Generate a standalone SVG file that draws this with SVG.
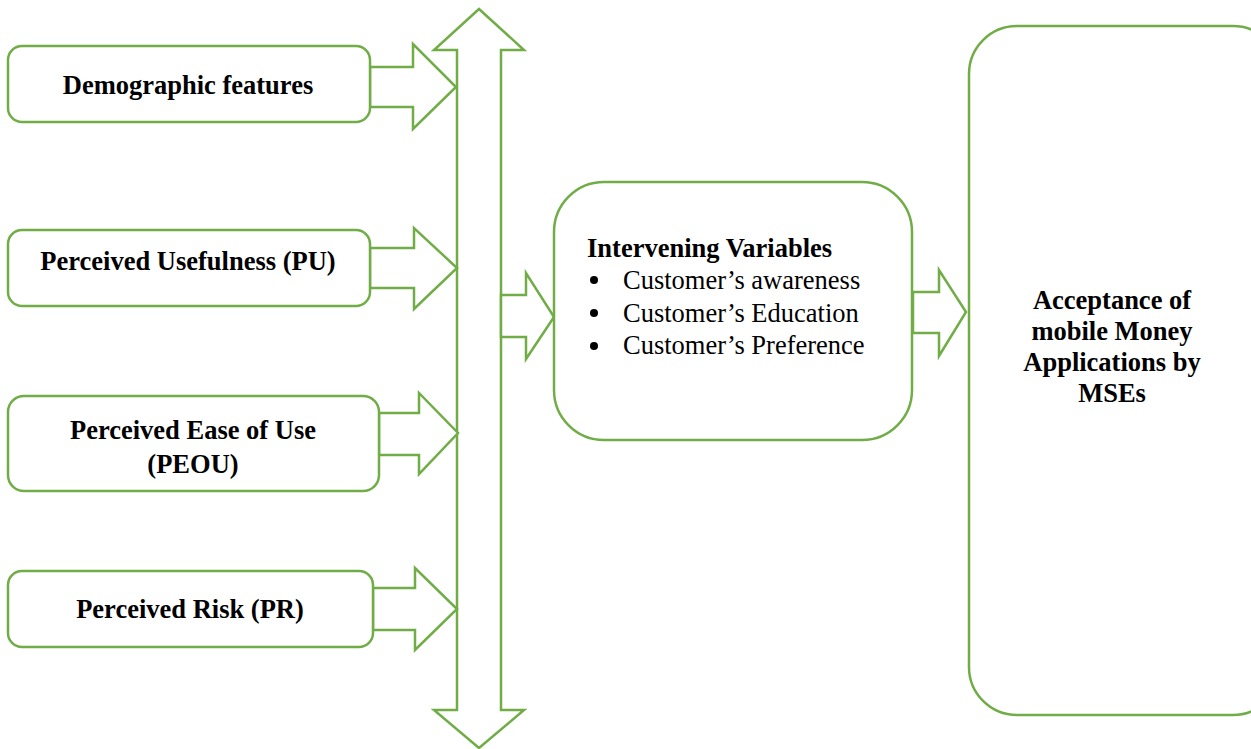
<svg xmlns="http://www.w3.org/2000/svg" width="1251" height="749" viewBox="0 0 1251 749">
<style>
.s{fill:#fff;stroke:#70AD47;stroke-width:2.5;stroke-linejoin:miter}
.b{font-family:"Liberation Serif","Times New Roman",serif;font-weight:bold;font-size:26.5px;fill:#000;text-anchor:middle}
.r{font-family:"Liberation Serif","Times New Roman",serif;font-size:26.5px;fill:#000}
</style>
<rect width="1251" height="749" fill="#fff"/>
<g id="connectors">
<polygon class="s" points="479,9 524,50 501,50 501,710 524,710 479,748 434,710 457,710 457,50 434,50"/>
<polygon class="s" points="370,67 413,67 413,44 456,87 413,129 413,107 370,107"/>
<polygon class="s" points="370,248 414,248 414,228 457,268 414,309 414,288 370,288"/>
<polygon class="s" points="379,413 419,413 419,393 458,433 419,474 419,455 379,455"/>
<polygon class="s" points="373,588 415,588 415,568 457,609 415,650 415,630 373,630"/>
<polygon class="s" points="501,295 526,295 526,273 554,317 526,359 526,337 501,337"/>
<polygon class="s" points="913,292 939,292 939,270 966,312 939,356 939,333 913,333"/>
</g>
<g id="demographic">
<rect class="s" x="8" y="46" width="362" height="76" rx="14"/>
<text class="b" x="188" y="94">Demographic features</text>
</g>
<g id="pu">
<rect class="s" x="8" y="230" width="362" height="76" rx="14"/>
<text class="b" x="188" y="270">Perceived Usefulness (PU)</text>
</g>
<g id="peou">
<rect class="s" x="8" y="396" width="371" height="95" rx="16"/>
<text class="b" x="193" y="439">Perceived Ease of Use</text>
<text class="b" x="193" y="473">(PEOU)</text>
</g>
<g id="pr">
<rect class="s" x="8" y="571" width="365" height="76" rx="14"/>
<text class="b" x="190" y="618">Perceived Risk (PR)</text>
</g>
<g id="intervening">
<rect class="s" x="554" y="182" width="358" height="258" rx="50"/>
<text class="b" x="587" y="257" style="text-anchor:start">Intervening Variables</text>
<circle cx="594" cy="280" r="4"/>
<circle cx="594" cy="313" r="4"/>
<circle cx="594" cy="346" r="4"/>
<text class="r" x="623" y="289">Customer’s awareness</text>
<text class="r" x="623" y="322">Customer’s Education</text>
<text class="r" x="623" y="354">Customer’s Preference</text>
</g>
<g id="acceptance">
<rect class="s" x="969" y="26" width="312" height="689" rx="48"/>
<text class="b" x="1112" y="309">Acceptance of</text>
<text class="b" x="1112" y="340">mobile Money</text>
<text class="b" x="1112" y="371">Applications by</text>
<text class="b" x="1112" y="402">MSEs</text>
</g>
</svg>
